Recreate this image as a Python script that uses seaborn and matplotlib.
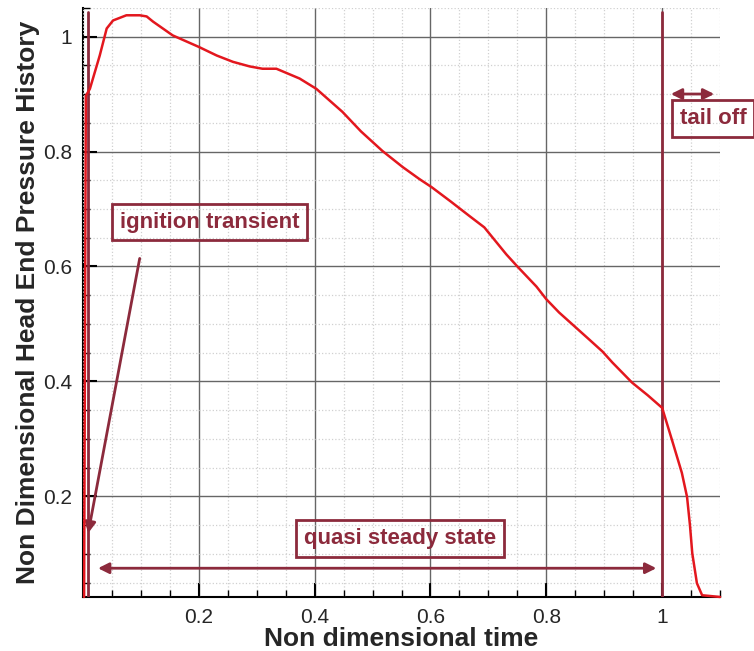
import matplotlib
matplotlib.use('Agg')
import matplotlib.pyplot as plt
import seaborn as sns
import pandas as pd
from matplotlib.ticker import MultipleLocator

# curve
time = [0.002, 0.005, 0.012, 0.029, 0.041, 0.052, 0.075, 0.098, 0.11, 0.121,
        0.155, 0.2, 0.231, 0.259, 0.288, 0.31, 0.334, 0.374, 0.403, 0.448,
        0.48, 0.517, 0.552, 0.581, 0.602, 0.635, 0.667, 0.693, 0.731, 0.75,
        0.783, 0.8, 0.822, 0.874, 0.897, 0.914, 0.948, 0.975, 1.0, 1.017,
        1.034, 1.043, 1.048, 1.052, 1.06, 1.069, 1.1]
pressure = [0.025, 0.897, 0.909, 0.967, 1.014, 1.028, 1.037, 1.037, 1.035, 1.026,
            1.002, 0.982, 0.967, 0.956, 0.948, 0.944, 0.944, 0.927, 0.909, 0.869,
            0.835, 0.801, 0.773, 0.752, 0.738, 0.713, 0.688, 0.668, 0.621, 0.6,
            0.565, 0.543, 0.52, 0.473, 0.452, 0.433, 0.398, 0.376, 0.354, 0.298,
            0.241, 0.199, 0.15, 0.101, 0.049, 0.028, 0.025]

x_ticks = [0.2, 0.4, 0.6, 0.8, 1.0]
x_labels = ['0.2', '0.4', '0.6', '0.8', '1']
y_ticks = [0.2, 0.4, 0.6, 0.8, 1.0]
y_labels = ['0.2', '0.4', '0.6', '0.8', '1']

maroon = '#8c2a3c'

sns.set_style('white')
plt.rcParams['font.family'] = ['Liberation Sans', 'DejaVu Sans']

fig = plt.figure(figsize=(7.54, 6.51), dpi=100)
ax = fig.add_axes([0.110, 0.083, 0.845, 0.905])

df = pd.DataFrame({'t': time, 'p': pressure})
sns.lineplot(data=df, x='t', y='p', ax=ax, color='#e3171e', lw=1.8,
             sort=False, zorder=4, clip_on=False)

ax.set_xlim(0, 1.1)
ax.set_ylim(0.025, 1.05)
ax.set_xticks(x_ticks)
ax.set_xticklabels(x_labels)
ax.set_yticks(y_ticks)
ax.set_yticklabels(y_labels)
ax.xaxis.set_minor_locator(MultipleLocator(0.05))
ax.yaxis.set_minor_locator(MultipleLocator(0.05))
ax.set_axisbelow(False)
ax.grid(which='major', color='#666666', lw=1.0, zorder=1)
ax.grid(which='minor', color='#d0d0d0', lw=0.9, ls=':', zorder=1)
ax.tick_params(which='both', bottom=True, left=True, top=False, right=False)
ax.tick_params(which='major', direction='in', length=10, width=1.5,
               labelsize=15, color='black', pad=8)
ax.tick_params(which='minor', direction='in', length=5, width=1.0, color='black')
for side in ['top', 'right']:
    ax.spines[side].set_visible(False)
for side in ['left', 'bottom']:
    ax.spines[side].set_color('black')
    ax.spines[side].set_linewidth(1.5)

ax.set_xlabel('Non dimensional time', fontsize=19, fontweight='bold', labelpad=0)
ax.set_ylabel('Non Dimensional Head End Pressure History', fontsize=19,
              fontweight='bold', labelpad=2)

# phase markers
ax.axvline(0.009, ymin=0, ymax=0.993, color=maroon, lw=2, zorder=3)
ax.axvline(1.0, ymin=0, ymax=0.993, color=maroon, lw=2, zorder=3)

box = dict(boxstyle='square,pad=0.35', fc='none', ec=maroon, lw=2)
ax.text(0.219, 0.677, 'ignition transient', color=maroon, fontsize=16,
        fontweight='bold', ha='center', va='center', bbox=box, zorder=5)
ax.text(0.547, 0.127, 'quasi steady state', color=maroon, fontsize=16,
        fontweight='bold', ha='center', va='center', bbox=box, zorder=5)
ax.text(1.03, 0.857, 'tail off', color=maroon, fontsize=16,
        fontweight='bold', ha='left', va='center', bbox=box, zorder=5,
        clip_on=False)

ax.annotate('', xy=(0.009, 0.136), xytext=(0.098, 0.614),
            arrowprops=dict(arrowstyle='-|>', color=maroon, lw=2,
                            mutation_scale=16, shrinkA=0, shrinkB=0))
ax.annotate('', xy=(0.026, 0.075), xytext=(0.99, 0.075),
            arrowprops=dict(arrowstyle='<|-|>', color=maroon, lw=2,
                            mutation_scale=16, shrinkA=0, shrinkB=0))
ax.annotate('', xy=(1.015, 0.9), xytext=(1.09, 0.9),
            arrowprops=dict(arrowstyle='<|-|>', color=maroon, lw=2,
                            mutation_scale=16, shrinkA=0, shrinkB=0),
            annotation_clip=False)

fig.savefig('out.png', dpi=100)
